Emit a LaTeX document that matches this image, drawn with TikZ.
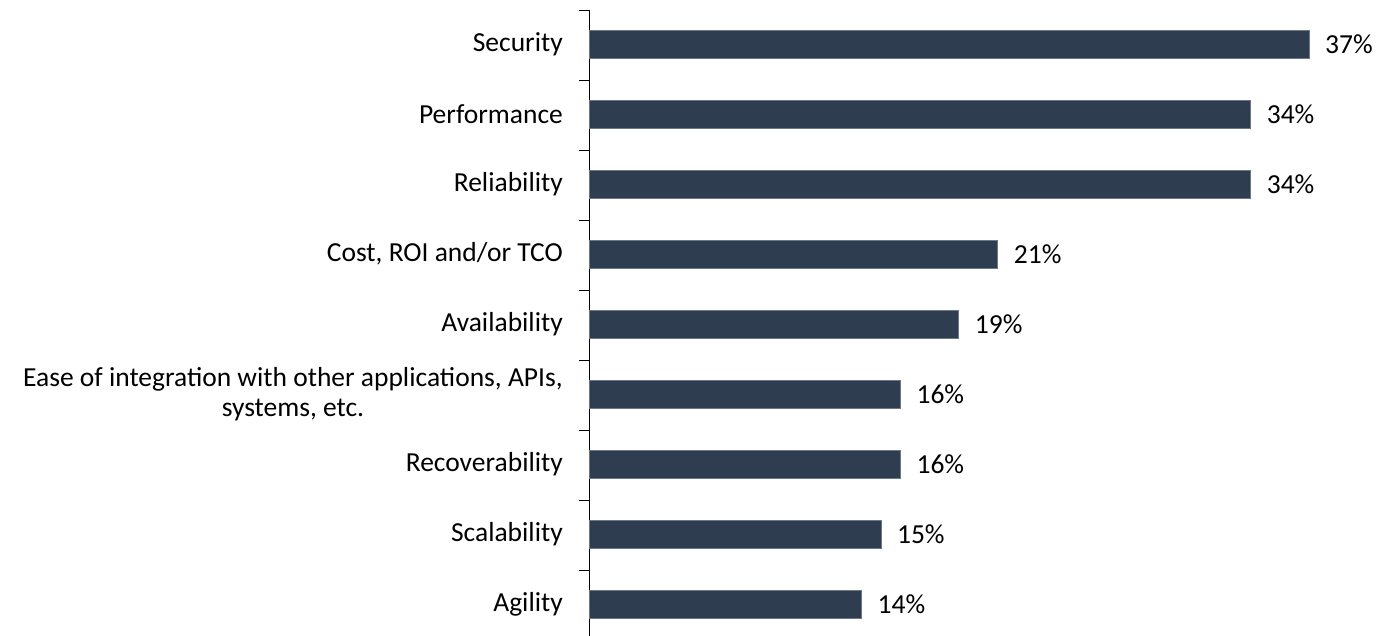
\documentclass[tikz,border=0pt]{standalone}
\usepackage{fontspec}
\setmainfont{Carlito}
\usepackage{xcolor}
\usetikzlibrary{positioning}
\definecolor{barblue}{RGB}{46,62,80}
\tikzset{
  bar/.style={fill=barblue, draw=barblue!70!white, line width=0.6pt, minimum height=28pt, inner sep=0pt, outer sep=0pt},
  catlabel/.style={inner sep=0pt, font=\fontsize{27.5}{30}\selectfont},
  vallabel/.style={inner sep=0pt, font=\fontsize{27.5}{30}\selectfont}
}
\begin{document}
\begin{tikzpicture}[x=1pt, y=-1pt]
    \useasboundingbox (0,0) rectangle (1385,636);

    % axe vertical et graduations
    \coordinate (top) at (589,10);
    \coordinate (bottom) at (589,636);
    \draw[line width=0.8pt] (top) -- (bottom);
    \foreach \k in {0,...,8}
        \draw[line width=0.8pt] (579,10+70*\k) -- (589,10+70*\k);

    % barres, pourcentages et libelles
    \foreach \name/\val [count=\i from 0] in {Security/37, Performance/34, Reliability/34,
        {Cost, ROI and/or TCO}/21, Availability/19, {}/16, Recoverability/16,
        Scalability/15, Agility/14}
    {
        \node[bar, anchor=west, minimum width=\val*19.46pt] (bar\i) at (589,44+70*\i) {};
        \node[vallabel, right=16pt of bar\i] (val\i) {\val\%};
        \node[catlabel, left=26pt of bar\i] (cat\i) {\name};
    }

    % libelle sur deux lignes
    \node[catlabel, align=center, anchor=east] (ease) at (563,394)
        {Ease of integration with other applications, APIs,\\systems, etc.};
\end{tikzpicture}
\end{document}
